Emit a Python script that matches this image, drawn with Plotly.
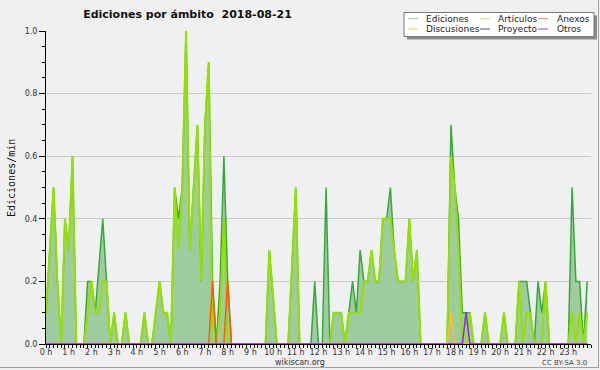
import plotly.graph_objects as go

# ---- data: edits per minute, 10-minute bins over the day ----
minutes = list(range(0, 1440, 10))

ediciones = [
    0.1, 0.3, 0.5, 0.2, 0, 0.4, 0.3, 0.6, 0, 0, 0, 0.2,
    0.2, 0.1, 0.25, 0.4, 0.2, 0, 0.1, 0, 0, 0.1, 0, 0,
    0, 0, 0.1, 0, 0, 0.1, 0.2, 0.1, 0.1, 0, 0.5, 0.4,
    0.5, 1.0, 0.3, 0.5, 0.7, 0.2, 0.7, 0.9, 0.2, 0, 0.2, 0.6,
    0.2, 0, 0, 0, 0, 0, 0, 0, 0, 0, 0, 0.3,
    0.15, 0, 0, 0, 0, 0.25, 0.5, 0, 0, 0, 0, 0.2,
    0, 0, 0.5, 0, 0.1, 0.1, 0.1, 0, 0.1, 0.2, 0.1, 0.3,
    0.2, 0.2, 0.3, 0.2, 0.2, 0.4, 0.4, 0.5, 0.3, 0.2, 0.2, 0.2,
    0.4, 0.2, 0.3, 0, 0, 0, 0, 0, 0, 0, 0, 0.7,
    0.5, 0.4, 0.1, 0.1, 0.1, 0, 0, 0, 0.1, 0, 0, 0,
    0, 0.1, 0, 0, 0, 0.2, 0.2, 0.2, 0.1, 0, 0.2, 0.1,
    0.2, 0, 0, 0, 0, 0, 0, 0.5, 0.2, 0.2, 0, 0.2,
]

articulos = [
    0.1, 0.3, 0.5, 0.2, 0, 0.4, 0.3, 0.6, 0, 0, 0, 0.1,
    0.2, 0.1, 0.1, 0.2, 0.2, 0, 0.1, 0, 0, 0.1, 0, 0,
    0, 0, 0.1, 0, 0, 0.1, 0.2, 0.1, 0.1, 0, 0.5, 0.3,
    0.5, 1.0, 0.3, 0.5, 0.7, 0.2, 0.7, 0.9, 0, 0, 0.1, 0.4,
    0, 0, 0, 0, 0, 0, 0, 0, 0, 0, 0, 0.3,
    0.15, 0, 0, 0, 0, 0.25, 0.5, 0, 0, 0, 0, 0,
    0, 0, 0, 0, 0.1, 0.1, 0.1, 0, 0.1, 0.1, 0.1, 0.1,
    0.2, 0.2, 0.3, 0.2, 0.2, 0.4, 0.4, 0.4, 0.3, 0.2, 0.2, 0.2,
    0.4, 0.2, 0.3, 0, 0, 0, 0, 0, 0, 0, 0, 0.6,
    0.5, 0.3, 0, 0, 0.1, 0, 0, 0, 0.1, 0, 0, 0,
    0, 0.1, 0, 0, 0, 0.2, 0, 0.1, 0.1, 0, 0, 0,
    0.2, 0, 0, 0, 0, 0, 0, 0.1, 0, 0.1, 0, 0.1,
]

anexos = [0] * 144
anexos[44] = 0.2
anexos[48] = 0.2

discusiones = [0] * 144
discusiones[107] = 0.1

proyecto = [0] * 144

otros = [0] * 144
otros[111] = 0.1

hour_labels = [f"{h} h" for h in range(24)]
y_ticks = [0.0, 0.2, 0.4, 0.6, 0.8, 1.0]

legend_items = [
    ("Ediciones", "#8ccc8c"), ("Artículos", "#c8ee60"), ("Anexos", "#ff8a50"),
    ("Discusiones", "#ffcc33"), ("Proyecto", "#555555"), ("Otros", "#9040f0"),
]

x_hours = [m / 60 for m in minutes]

fig = go.Figure()
fig.add_trace(go.Scatter(x=x_hours, y=ediciones, mode="lines", fill="tozeroy",
                         fillcolor="#9fcc9f", line=dict(color="#38a838", width=1.5),
                         name="Ediciones"))
fig.add_trace(go.Scatter(x=x_hours, y=articulos, mode="lines",
                         line=dict(color="#94e000", width=2), name="Artículos"))
fig.add_trace(go.Scatter(x=x_hours, y=proyecto, mode="lines",
                         line=dict(color="#555555", width=1.5), name="Proyecto"))
fig.add_trace(go.Scatter(x=x_hours, y=anexos, mode="lines",
                         line=dict(color="#ff5a00", width=1.5), name="Anexos"))
fig.add_trace(go.Scatter(x=x_hours, y=discusiones, mode="lines",
                         line=dict(color="#ffc020", width=1.5), name="Discusiones"))
fig.add_trace(go.Scatter(x=x_hours, y=otros, mode="lines",
                         line=dict(color="#8a2be2", width=1.5), name="Otros"))

W, H = 600, 370
L, R, T, B = 46, 591, 31, 344

def px(x):
    return (x - L) / (R - L)

def py(y):
    return (B - y) / (B - T)

shapes = []
annotations = []

# legend box with shadow
shapes.append(dict(type="rect", xref="paper", yref="paper",
                   x0=px(407), x1=px(597), y0=py(15.5), y1=py(39.5),
                   line=dict(width=0), fillcolor="#8a8a8a", layer="above"))
shapes.append(dict(type="rect", xref="paper", yref="paper",
                   x0=px(404), x1=px(594), y0=py(12.5), y1=py(36.5),
                   line=dict(width=1, color="#777777"), fillcolor="#ffffff", layer="above"))
cols = [(408, 424), (480, 496), (538, 555)]
rows = [18.7, 29.0]
for k, (name, col) in enumerate(legend_items):
    r, c = divmod(k, 3)
    lx, tx = cols[c]
    yy = rows[r]
    shapes.append(dict(type="line", xref="paper", yref="paper",
                       x0=px(lx), x1=px(lx + 10), y0=py(yy), y1=py(yy),
                       line=dict(color=col, width=1), layer="above"))
    annotations.append(dict(text=name, xref="paper", yref="paper", x=px(tx), y=py(yy),
                            xanchor="left", yanchor="middle", showarrow=False,
                            font=dict(family="DejaVu Sans", size=9, color="#222222")))

# outer frame
shapes.append(dict(type="line", xref="paper", yref="paper",
                   x0=px(598.5), x1=px(598.5), y0=py(0), y1=py(368),
                   line=dict(color="#a0a0a0", width=1)))
shapes.append(dict(type="line", xref="paper", yref="paper",
                   x0=px(0), x1=px(599), y0=py(367.5), y1=py(367.5),
                   line=dict(color="#a0a0a0", width=1)))

annotations.append(dict(text="Ediciones/min", xref="paper", yref="paper",
                        x=px(11), y=py(178), textangle=-90, showarrow=False,
                        xanchor="center", yanchor="middle",
                        font=dict(family="DejaVu Sans Mono", size=10, color="#111111")))
annotations.append(dict(text="wikiscan.org", xref="paper", yref="paper",
                        x=px(300), y=py(362), showarrow=False,
                        xanchor="center", yanchor="middle",
                        font=dict(family="DejaVu Sans", size=8, color="#333333")))
annotations.append(dict(text="CC BY-SA 3.0", xref="paper", yref="paper",
                        x=px(589), y=py(362.5), showarrow=False,
                        xanchor="right", yanchor="middle",
                        font=dict(family="DejaVu Sans", size=7, color="#444444")))

fig.update_layout(
    width=W, height=H,
    margin=dict(l=L, r=W - R, t=T, b=H - B, autoexpand=False),
    paper_bgcolor="#f0f0f0", plot_bgcolor="#eef0f2",
    showlegend=False,
    title=dict(text="Ediciones por ámbito\u00a0\u00a02018-08-21", x=187.5 / W, y=1 - 14 / H,
               xanchor="center", yanchor="middle", xref="container", yref="container",
               font=dict(family="DejaVu Sans", size=11, color="#111111", weight="bold")),
    shapes=shapes, annotations=annotations,
    xaxis=dict(range=[0, 24], tickmode="array", tickvals=list(range(24)), ticktext=hour_labels,
               ticks="outside", ticklen=3, tickcolor="#000000", showline=True, linecolor="#000000",
               showgrid=False, zeroline=False, ticklabelstandoff=-3,
               tickfont=dict(family="DejaVu Sans", size=8, color="#333333"),
               minor=dict(dtick=1 / 6, tick0=0, ticks="outside", ticklen=3, tickcolor="#000000",
                          showgrid=False)),
    yaxis=dict(range=[0, 1], tickmode="array", tickvals=y_ticks,
               ticktext=[f"{v:.1f}" for v in y_ticks],
               ticks="outside", ticklen=6, tickcolor="#000000", showline=True, linecolor="#000000",
               showgrid=True, gridcolor="#cccccc", zeroline=False,
               tickfont=dict(family="DejaVu Sans", size=8, color="#333333"),
               minor=dict(dtick=0.05, tick0=0, ticks="outside", ticklen=3, tickcolor="#000000",
                          showgrid=False)),
)

fig.write_html("out.html", config={"displayModeBar": False},
               post_script="document.body.style.margin='0';document.body.style.background='#f0f0f0';")
